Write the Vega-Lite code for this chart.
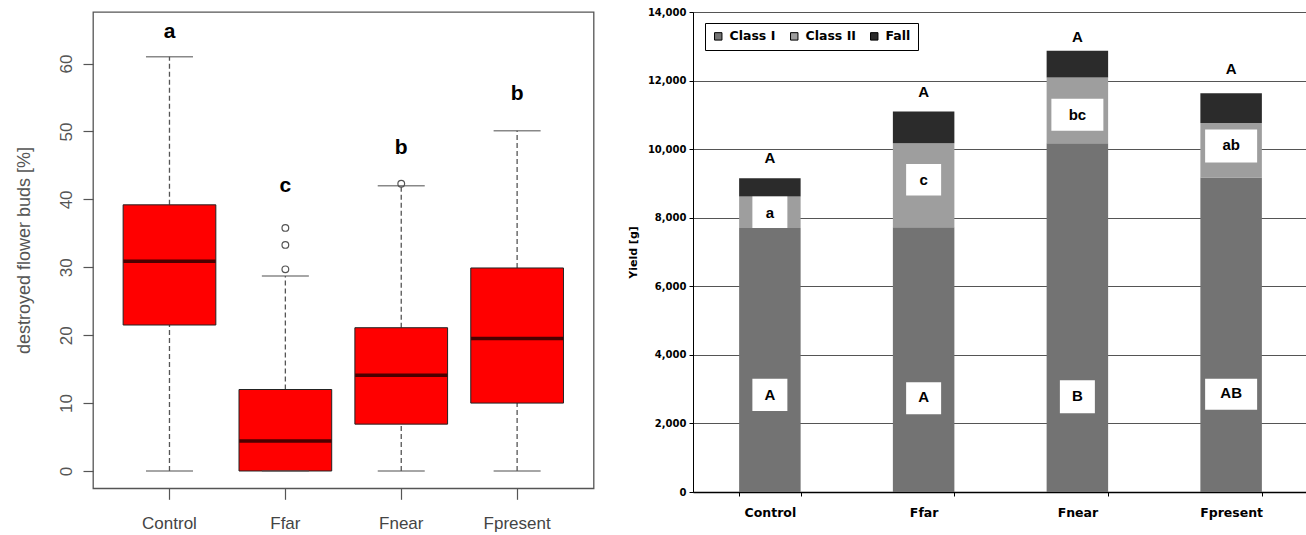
{
  "$schema": "https://vega.github.io/schema/vega-lite/v6.json",
  "padding": {"left": 14, "top": 6, "right": 0, "bottom": 0},
  "background": "white",
  "spacing": 31,
  "resolve": {"legend": {"color": "independent"}},
  "datasets": {
    "buds": [
      {"group": "Control", "lower": 0, "q1": 21.5, "median": 30.9, "q3": 39.2, "upper": 61.0, "sig": "a", "sy": 64.6},
      {"group": "Ffar", "lower": 0, "q1": 0, "median": 4.4, "q3": 12.0, "upper": 28.7, "sig": "c", "sy": 41.9},
      {"group": "Fnear", "lower": 0, "q1": 6.9, "median": 14.1, "q3": 21.1, "upper": 42.0, "sig": "b", "sy": 47.6},
      {"group": "Fpresent", "lower": 0, "q1": 10.0, "median": 19.5, "q3": 29.9, "upper": 50.1, "sig": "b", "sy": 55.5}
    ],
    "outliers": [
      {"group": "Ffar", "value": 35.8},
      {"group": "Ffar", "value": 33.3},
      {"group": "Ffar", "value": 29.7},
      {"group": "Fnear", "value": 42.3}
    ],
    "yield": [
      {"treatment": "Control", "class": "Class I", "value": 7700},
      {"treatment": "Control", "class": "Class II", "value": 920},
      {"treatment": "Control", "class": "Fall", "value": 530},
      {"treatment": "Ffar", "class": "Class I", "value": 7720},
      {"treatment": "Ffar", "class": "Class II", "value": 2450},
      {"treatment": "Ffar", "class": "Fall", "value": 930},
      {"treatment": "Fnear", "class": "Class I", "value": 10170},
      {"treatment": "Fnear", "class": "Class II", "value": 1920},
      {"treatment": "Fnear", "class": "Fall", "value": 780},
      {"treatment": "Fpresent", "class": "Class I", "value": 9170},
      {"treatment": "Fpresent", "class": "Class II", "value": 1590},
      {"treatment": "Fpresent", "class": "Fall", "value": 870}
    ],
    "yieldLabels": [
      {"treatment": "Control", "label": "A", "ly": 9740},
      {"treatment": "Ffar", "label": "A", "ly": 11680},
      {"treatment": "Fnear", "label": "A", "ly": 13280},
      {"treatment": "Fpresent", "label": "A", "ly": 12330},
      {"treatment": "Control", "label": "a", "ly": 8140, "lo": 7700, "hi": 8620},
      {"treatment": "Ffar", "label": "c", "ly": 9100, "lo": 8650, "hi": 9570},
      {"treatment": "Fnear", "label": "bc", "ly": 11000, "lo": 10540, "hi": 11470},
      {"treatment": "Fpresent", "label": "ab", "ly": 10110, "lo": 9610, "hi": 10570},
      {"treatment": "Control", "label": "A", "ly": 2820, "lo": 2360, "hi": 3300},
      {"treatment": "Ffar", "label": "A", "ly": 2770, "lo": 2270, "hi": 3200},
      {"treatment": "Fnear", "label": "B", "ly": 2800, "lo": 2300, "hi": 3260},
      {"treatment": "Fpresent", "label": "AB", "ly": 2880, "lo": 2400, "hi": 3300}
    ]
  },
  "hconcat": [
    {
      "width": 500.6,
      "height": 476.3,
      "view": {"stroke": "#555", "strokeWidth": 1.3},
      "data": {"name": "buds"},
      "encoding": {
        "x": {
          "field": "group", "type": "nominal",
          "scale": {"paddingInner": 0.2, "paddingOuter": 0.26},
          "axis": {"title": null, "labelAngle": 0, "labelFont": "Liberation Sans", "labelFontSize": 17, "labelColor": "#444", "tickSize": 11, "tickColor": "#555", "tickWidth": 1.2, "labelPadding": 16, "domain": false}
        }
      },
      "layer": [
        {
          "mark": {"type": "rule", "strokeDash": [5, 3], "color": "#555", "strokeWidth": 1.3},
          "encoding": {
            "y": {
              "field": "q3", "type": "quantitative", "title": "destroyed flower buds [%]",
              "scale": {"domain": [-2.55, 67.6], "nice": false, "zero": false},
              "axis": {"values": [0, 10, 20, 30, 40, 50, 60], "labelAngle": 270, "labelAlign": "center", "labelBaseline": "bottom", "labelFont": "Liberation Sans", "labelFontSize": 17, "labelColor": "#555", "tickSize": 10, "tickColor": "#555", "tickWidth": 1.2, "labelPadding": 8, "domain": false, "grid": false, "titleFont": "Liberation Sans", "titleFontSize": 18, "titleFontWeight": "normal", "titleColor": "#555", "titleX": -69, "titleY": 238, "titleAngle": 270, "titleAlign": "center", "titleBaseline": "middle"}
            },
            "y2": {"field": "upper"}
          }
        },
        {
          "mark": {"type": "rule", "strokeDash": [5, 3], "color": "#555", "strokeWidth": 1.3},
          "encoding": {
            "y": {"field": "lower", "type": "quantitative", "title": "destroyed flower buds [%]"},
            "y2": {"field": "q1"}
          }
        },
        {
          "mark": {"type": "bar", "fill": "#ff0000", "stroke": "#222", "strokeWidth": 1},
          "encoding": {
            "y": {"field": "q1", "type": "quantitative", "title": "destroyed flower buds [%]"},
            "y2": {"field": "q3"}
          }
        },
        {
          "mark": {"type": "tick", "size": 47, "thickness": 1.5, "color": "#555"},
          "encoding": {"y": {"field": "upper", "type": "quantitative", "title": "destroyed flower buds [%]"}}
        },
        {
          "mark": {"type": "tick", "size": 47, "thickness": 1.5, "color": "#555"},
          "encoding": {"y": {"field": "lower", "type": "quantitative", "title": "destroyed flower buds [%]"}}
        },
        {
          "mark": {"type": "tick", "size": 92, "thickness": 3.5, "color": "#000"},
          "encoding": {"y": {"field": "median", "type": "quantitative", "title": "destroyed flower buds [%]"}}
        },
        {
          "data": {"name": "outliers"},
          "mark": {"type": "point", "shape": "circle", "filled": false, "size": 45, "stroke": "#555", "strokeWidth": 1.2, "opacity": 1},
          "encoding": {"y": {"field": "value", "type": "quantitative", "title": "destroyed flower buds [%]"}}
        },
        {
          "mark": {"type": "text", "font": "Liberation Sans", "fontWeight": "bold", "fontSize": 21, "color": "black", "baseline": "middle"},
          "encoding": {
            "y": {"field": "sy", "type": "quantitative", "title": "destroyed flower buds [%]"},
            "text": {"field": "sig"}
          }
        }
      ]
    },
    {
      "width": 615,
      "height": 480,
      "view": {"stroke": "#777", "strokeWidth": 1},
      "encoding": {
        "x": {
          "field": "treatment", "type": "nominal",
          "scale": {"paddingInner": 0.6, "paddingOuter": 0.3},
          "axis": {"title": null, "labelAngle": 0, "labelFont": "DejaVu Sans", "labelFontWeight": "bold", "labelFontSize": 12.5, "labelColor": "black", "tickBand": "extent", "tickSize": 4, "tickColor": "black", "domainColor": "black", "domainWidth": 1.5, "labelPadding": 10}
        }
      },
      "layer": [
        {
          "data": {"name": "yield"},
          "mark": {"type": "bar"},
          "encoding": {
            "y": {
              "field": "value", "type": "quantitative", "stack": "zero", "title": "Yield [g]",
              "scale": {"domain": [0, 14000], "nice": false},
              "axis": {"values": [0, 2000, 4000, 6000, 8000, 10000, 12000, 14000], "format": ",.0f", "labelFont": "DejaVu Sans", "labelFontWeight": "bold", "labelFontSize": 10, "labelColor": "black", "tickSize": 4, "tickColor": "black", "domainColor": "black", "domainWidth": 1, "labelPadding": 3, "grid": true, "gridColor": "#555", "gridWidth": 1, "titleFont": "DejaVu Sans", "titleFontWeight": "bold", "titleFontSize": 11, "titleColor": "black", "titleX": -60, "titleY": 240, "titleAngle": 270, "titleAlign": "center", "titleBaseline": "middle"}
            },
            "color": {
              "field": "class", "type": "nominal",
              "scale": {"domain": ["Class I", "Class II", "Fall"], "range": ["#737373", "#9e9e9e", "#2b2b2b"]},
              "legend": {"title": null, "orient": "none", "legendX": 12, "legendY": 11, "direction": "horizontal", "strokeColor": "black", "fillColor": "white", "padding": 7, "symbolType": "square", "symbolSize": 55, "symbolStrokeColor": "black", "symbolStrokeWidth": 1, "labelFont": "DejaVu Sans", "labelFontWeight": "bold", "labelFontSize": 12.5, "labelColor": "black", "columnPadding": 12, "labelOffset": 5}
            },
            "order": {"field": "class", "sort": "ascending"}
          }
        },
        {
          "data": {"name": "yieldLabels"},
          "transform": [{"filter": "isValid(datum.lo) && length(datum.label) == 1"}],
          "mark": {"type": "bar", "fill": "white", "width": 35},
          "encoding": {
            "y": {"field": "lo", "type": "quantitative", "title": "Yield [g]"},
            "y2": {"field": "hi"}
          }
        },
        {
          "data": {"name": "yieldLabels"},
          "transform": [{"filter": "isValid(datum.lo) && length(datum.label) == 2"}],
          "mark": {"type": "bar", "fill": "white", "width": 52},
          "encoding": {
            "y": {"field": "lo", "type": "quantitative", "title": "Yield [g]"},
            "y2": {"field": "hi"}
          }
        },
        {
          "data": {"name": "yieldLabels"},
          "mark": {"type": "text", "font": "Liberation Sans", "fontWeight": "bold", "fontSize": 15, "color": "black", "baseline": "middle"},
          "encoding": {
            "y": {"field": "ly", "type": "quantitative", "title": "Yield [g]"},
            "text": {"field": "label"}
          }
        }
      ]
    }
  ]
}
